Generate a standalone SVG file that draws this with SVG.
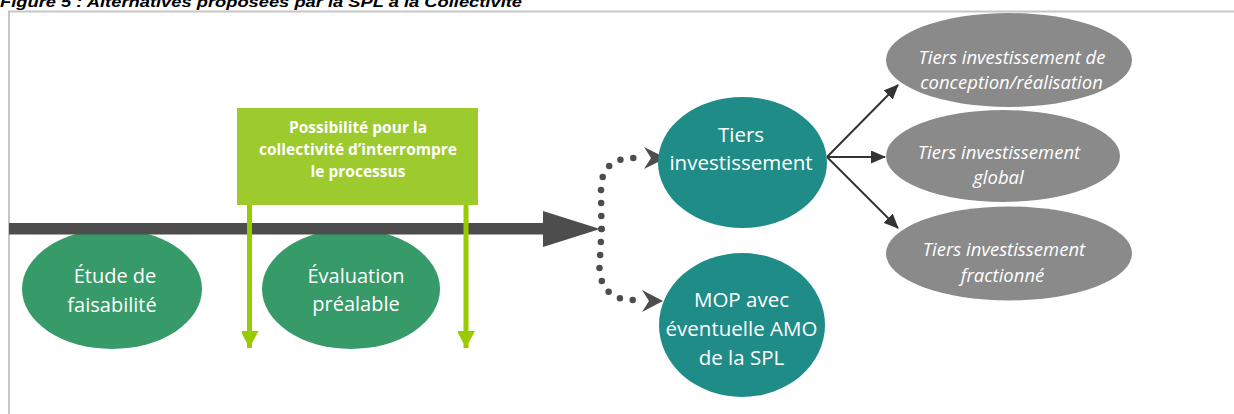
<svg xmlns="http://www.w3.org/2000/svg" width="1234" height="414" viewBox="0 0 1234 414">
<defs>
<style>
.t{font-family:"Open Sans","Liberation Sans",sans-serif;fill:#ffffff;text-anchor:middle}
.g{fill:#369a69}
.teal{fill:#1f8c88}
.gray{fill:#8a8a8a}
.gt{font-size:20px}
.tt{font-size:20.5px}
.it{font-size:18.5px;font-style:italic}
.bt{font-size:15.5px;font-weight:bold}
.dots{fill:none;stroke:#4d4d4d;stroke-width:6.5;stroke-linecap:round;stroke-dasharray:0 13}
.thin{fill:none;stroke:#333333;stroke-width:2}
.vg{stroke:#99cc00;stroke-width:5;fill:none}
</style>
<marker id="ah" markerUnits="userSpaceOnUse" markerWidth="15" markerHeight="13" refX="14" refY="6.5" orient="auto">
<path d="M0,0 L15,6.5 L0,13 Z" fill="#333333"/>
</marker>
<marker id="gh" markerUnits="userSpaceOnUse" markerWidth="18" markerHeight="17" refX="17" refY="9" orient="auto">
<path d="M0,0 L17,9 L0,18 Z" fill="#99cc00"/>
</marker>
</defs>
<rect width="1234" height="414" fill="#ffffff"/>
<text x="0" y="7" font-family="Liberation Sans,Arial,sans-serif" font-size="14" font-weight="bold" font-style="italic" fill="#000000" textLength="522" lengthAdjust="spacingAndGlyphs">Figure 5 : Alternatives proposées par la SPL à la Collectivité</text>
<path d="M9,414 L9,11.5 L1234,11.5" fill="none" stroke="#c6c6c6" stroke-width="2"/>

<g id="etude">
<ellipse class="g" cx="112" cy="289" rx="90" ry="60"/>
<text class="t gt" x="115" y="283">Étude de</text>
<text class="t gt" x="112" y="312">faisabilité</text>
</g>
<g id="evaluation">
<ellipse class="g" cx="351" cy="289" rx="89" ry="60"/>
<text class="t gt" x="356" y="283">Évaluation</text>
<text class="t gt" x="356" y="311">préalable</text>
</g>

<g id="connectors">
<rect x="9" y="223" width="535" height="11.5" fill="#4d4d4d"/>
<polygon points="543,211 600,229 543,247" fill="#4d4d4d"/>
<line class="vg" x1="249.5" y1="204" x2="249.5" y2="348" marker-end="url(#gh)"/>
<line class="vg" x1="466" y1="204" x2="466" y2="348" marker-end="url(#gh)"/>
<path class="dots" d="M601.5,229 L601,190 Q601,158 634,158 L640,158"/>
<polygon points="644,147 666,158 644,169 651,158" fill="#4d4d4d"/>
<path class="dots" d="M601.5,229 L599.5,268 Q601,300 634,300 L638,300"/>
<polygon points="642,290 663,301 642,312 649,301" fill="#4d4d4d"/>
<line class="thin" x1="827" y1="157" x2="898" y2="85" marker-end="url(#ah)"/>
<line class="thin" x1="827" y1="157" x2="885" y2="157" marker-end="url(#ah)"/>
<line class="thin" x1="827" y1="157" x2="898" y2="228" marker-end="url(#ah)"/>
</g>

<g id="possibilite">
<rect x="237" y="108" width="241" height="97" fill="#9dcb2e"/>
<text class="t bt" x="358" y="133">Possibilité pour la</text>
<text class="t bt" x="358" y="155">collectivité d’interrompre</text>
<text class="t bt" x="358" y="177">le processus</text>
</g>

<g id="tiers">
<ellipse class="teal" cx="742.5" cy="162.5" rx="84.5" ry="65.5"/>
<text class="t tt" x="741" y="142">Tiers</text>
<text class="t tt" x="741" y="170">investissement</text>
</g>
<g id="mop">
<ellipse class="teal" cx="742" cy="325" rx="83" ry="72"/>
<text class="t tt" x="741.5" y="307">MOP avec</text>
<text class="t tt" x="741.5" y="336">éventuelle AMO</text>
<text class="t tt" x="741.5" y="365">de la SPL</text>
</g>

<g id="ti-conception">
<ellipse class="gray" cx="1009" cy="60" rx="123" ry="47"/>
<text class="t it" x="1012" y="64">Tiers investissement de</text>
<text class="t it" x="1011.5" y="89">conception/réalisation</text>
</g>
<g id="ti-global">
<ellipse class="gray" cx="1003" cy="156" rx="117" ry="46"/>
<text class="t it" x="999" y="159">Tiers investissement</text>
<text class="t it" x="998.5" y="184">global</text>
</g>
<g id="ti-fractionne">
<ellipse class="gray" cx="1009" cy="253.5" rx="123" ry="47"/>
<text class="t it" x="1004" y="256">Tiers investissement</text>
<text class="t it" x="1002.5" y="282">fractionné</text>
</g>
</svg>
